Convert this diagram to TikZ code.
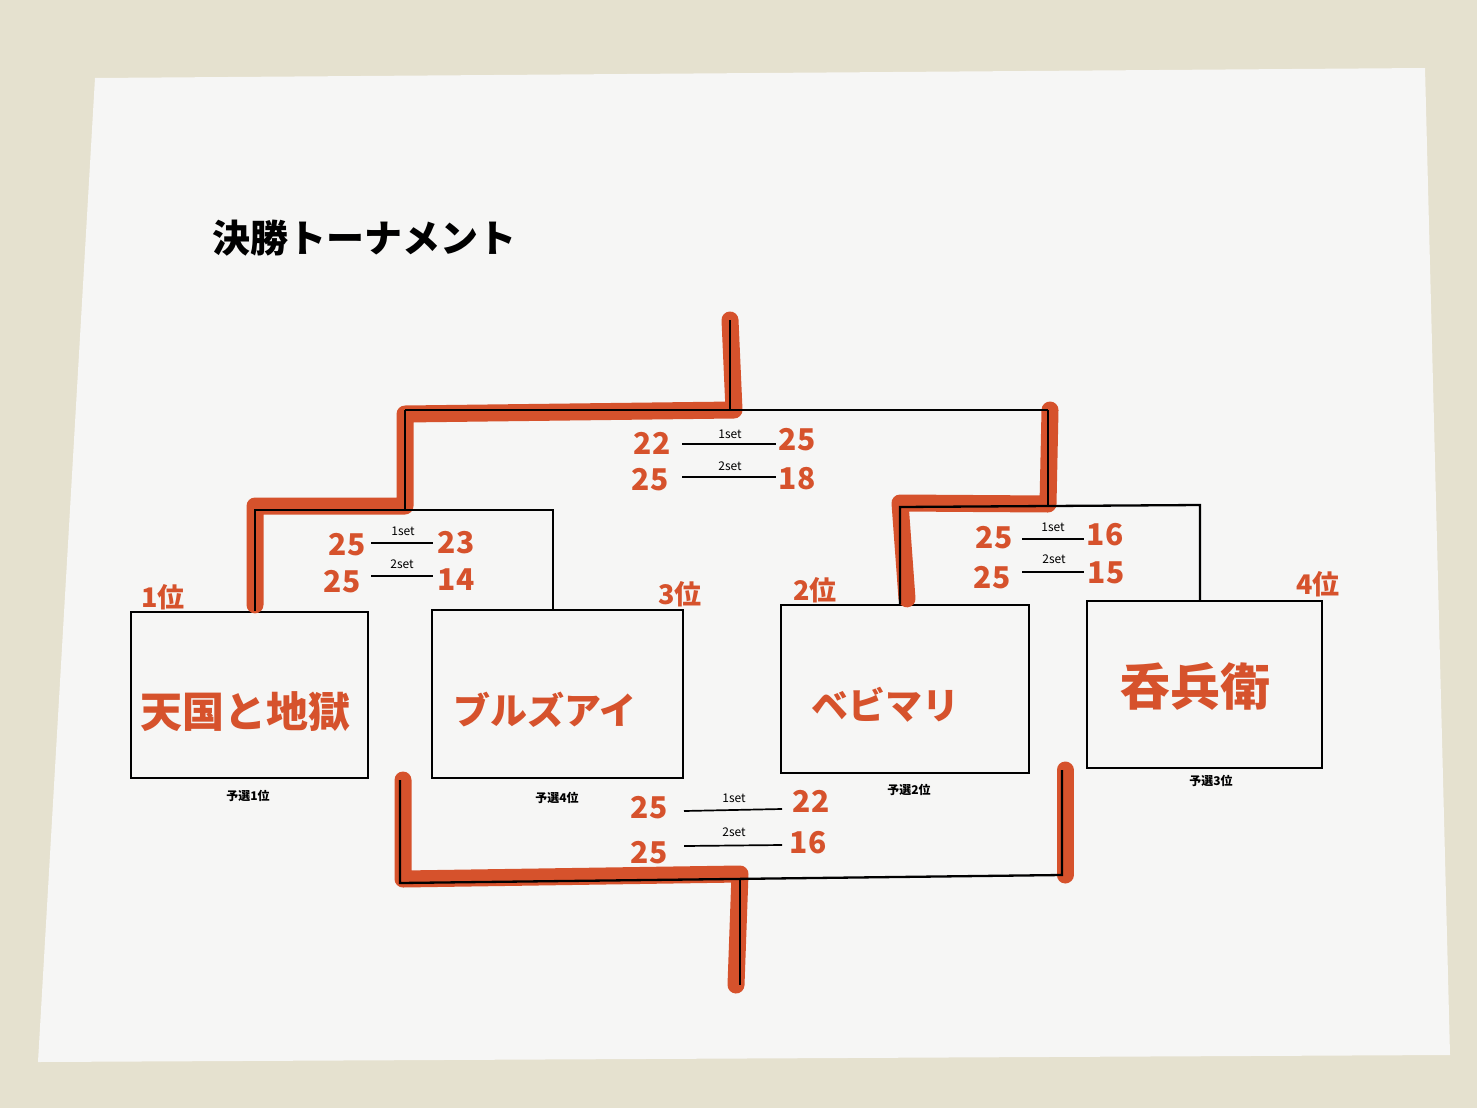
\documentclass[tikz,border=0pt]{standalone}
\usepackage{fontspec}
\newfontfamily\jp{Noto Sans CJK JP}
\definecolor{marker}{RGB}{214,82,44}
\definecolor{bgc}{RGB}{229,225,207}
\definecolor{paperc}{RGB}{246,246,245}
\tikzset{
  wire/.style={draw=black, line width=2.3pt},
  thinwire/.style={draw=black, line width=1.7pt},
  hilite/.style={draw=marker, line width=17pt, line join=round, line cap=round},
  teambox/.style={draw=black, line width=2.3pt, rectangle, inner sep=0pt},
  teamname/.style={text=marker, font=\jp\bfseries\fontsize{#1}{#1}\selectfont, inner sep=0pt},
  score/.style={text=marker, font=\jp\bfseries\fontsize{30}{30}\selectfont, inner sep=0pt},
  rank/.style={text=marker, font=\jp\bfseries\fontsize{27}{27}\selectfont, inner sep=0pt},
  setlbl/.style={text=black, font=\jp\fontsize{12}{12}\selectfont, inner sep=0pt},
  seed/.style={text=black, font=\jp\bfseries\fontsize{12}{12}\selectfont, inner sep=0pt},
}
\begin{document}
\begin{tikzpicture}[x=1pt,y=-1pt]
\useasboundingbox (0,0) rectangle (1477,1108);
\fill[bgc] (0,0) rectangle (1477,1108);
\fill[paperc] (95,78) -- (1425,68) -- (1450,1055) -- (38,1062) -- cycle;

% title
\node[anchor=west, inner sep=0pt, font=\jp\bfseries\fontsize{38}{38}\selectfont] (title) at (212,238) {決勝トーナメント};

% team boxes
\node[teambox, minimum width=237pt, minimum height=166pt] (b1) at (249.5,695) {};
\node[teambox, minimum width=251pt, minimum height=168pt] (b2) at (557.5,694) {};
\node[teambox, minimum width=248pt, minimum height=168pt] (b3) at (905,689) {};
\node[teambox, minimum width=235pt, minimum height=167pt] (b4) at (1204.5,684.5) {};

% bracket joints
\coordinate (s1l) at (255,510);
\coordinate (s1r) at (553,510);
\coordinate (s1m) at (405,510);
\coordinate (s2l) at (900,507);
\coordinate (s2r) at (1200,505);
\coordinate (s2m) at (1048,506);
\coordinate (fl) at (405,410);
\coordinate (fr) at (1048,410);
\coordinate (fm) at (730,410);
\coordinate (ftop) at (730,320);
\coordinate (tlt) at (400,780);
\coordinate (tl) at (400,883);
\coordinate (trt) at (1062,770);
\coordinate (tr) at (1062,875);
\coordinate (tm) at (740,880);
\coordinate (tbot) at (740,985);

% marker highlights
\draw[hilite] ([yshift=6pt]b1.north -| s1l) -- ([yshift=4pt]s1l) -- ([yshift=4pt]s1m) -- ([yshift=-4pt]fl) -- ([xshift=4pt]fm) -- (ftop);
\draw[hilite] ([xshift=7pt,yshift=5pt]b3.north -| s2l) -- ([yshift=4pt]s2l) -- ([yshift=2pt]s2m) -- ([xshift=2pt]fr);
\draw[hilite] ([xshift=3pt]tlt) -- ([xshift=3pt,yshift=4pt]tl) -- ([yshift=6pt]tm) -- ([xshift=-4pt]tbot);
\draw[hilite] ([xshift=3pt]trt) -- ([xshift=3pt]tr);

% semifinal 1
\draw[wire] (b1.north -| s1l) -- (s1l) -- (s1r) -- (b2.north -| s1r);
\draw[wire] (s1m) -- (fl);
% semifinal 2
\draw[wire] (b3.north -| s2l) -- (s2l) -- (s2r) -- (b4.north -| s2r);
\draw[wire] (s2m) -- (fr);
% final
\draw[wire] (fl) -- (fr);
\draw[wire] (fm) -- (ftop);
% third place
\draw[wire] (tlt) -- (tl) -- (tr) -- (trt);
\draw[wire] (tm) -- (tbot);

% team names
\node[teamname=42] (n1) at (245,712) {天国と地獄};
\node[teamname=37] (n2) at (545,710) {ブルズアイ};
\node[teamname=37] (n3) at (885,705) {ベビマリ};
\node[teamname=50] (n4) at (1195,686) {呑兵衛};

% ranks
\node[rank] (r1) at (163,597) {1位};
\node[rank] (r3) at (680,594) {3位};
\node[rank] (r2) at (815,590) {2位};
\node[rank] (r4) at (1318,584) {4位};

% seeds
\node[seed] (p1) at (248,796) {予選1位};
\node[seed] (p4) at (557,798) {予選4位};
\node[seed] (p2) at (909,790) {予選2位};
\node[seed] (p3) at (1211,781) {予選3位};

% SF1 scores
\node[setlbl] (a1) at (403,531) {1set};
\node[setlbl] (a2) at (402,564) {2set};
\coordinate (a1l) at (371,543); \coordinate (a1r) at (433,543);
\coordinate (a2l) at (371,576); \coordinate (a2r) at (433,576);
\draw[thinwire] (a1l) -- (a1r);
\draw[thinwire] (a2l) -- (a2r);
\node[score] (a1s) at (347,545) {25};
\node[score] (a2s) at (342,582) {25};
\node[score] (a1t) at (456,543) {23};
\node[score] (a2t) at (456,580) {14};

% SF2 scores
\node[setlbl] (c1) at (1053,527) {1set};
\node[setlbl] (c2) at (1054,559) {2set};
\coordinate (c1l) at (1022,539); \coordinate (c1r) at (1084,539);
\coordinate (c2l) at (1022,572); \coordinate (c2r) at (1084,572);
\draw[thinwire] (c1l) -- (c1r);
\draw[thinwire] (c2l) -- (c2r);
\node[score] (c1s) at (994,538) {25};
\node[score] (c2s) at (992,578) {25};
\node[score] (c1t) at (1105,535) {16};
\node[score] (c2t) at (1106,573) {15};

% final scores
\node[setlbl] (f1) at (730,434) {1set};
\node[setlbl] (f2) at (730,466) {2set};
\coordinate (f1l) at (682,444); \coordinate (f1r) at (776,444);
\coordinate (f2l) at (682,477); \coordinate (f2r) at (776,477);
\draw[thinwire] (f1l) -- (f1r);
\draw[thinwire] (f2l) -- (f2r);
\node[score] (f1s) at (652,443) {22};
\node[score] (f2s) at (650,480) {25};
\node[score] (f1t) at (797,440) {25};
\node[score] (f2t) at (797,479) {18};

% third place scores
\node[setlbl] (t1) at (734,798) {1set};
\node[setlbl] (t2) at (734,832) {2set};
\coordinate (t1l) at (684,811); \coordinate (t1r) at (782,809);
\coordinate (t2l) at (684,846); \coordinate (t2r) at (782,845);
\draw[thinwire] (t1l) -- (t1r);
\draw[thinwire] (t2l) -- (t2r);
\node[score] (t1s) at (649,808) {25};
\node[score] (t2s) at (649,853) {25};
\node[score] (t1t) at (811,801) {22};
\node[score] (t2t) at (808,843) {16};
\end{tikzpicture}
\end{document}
